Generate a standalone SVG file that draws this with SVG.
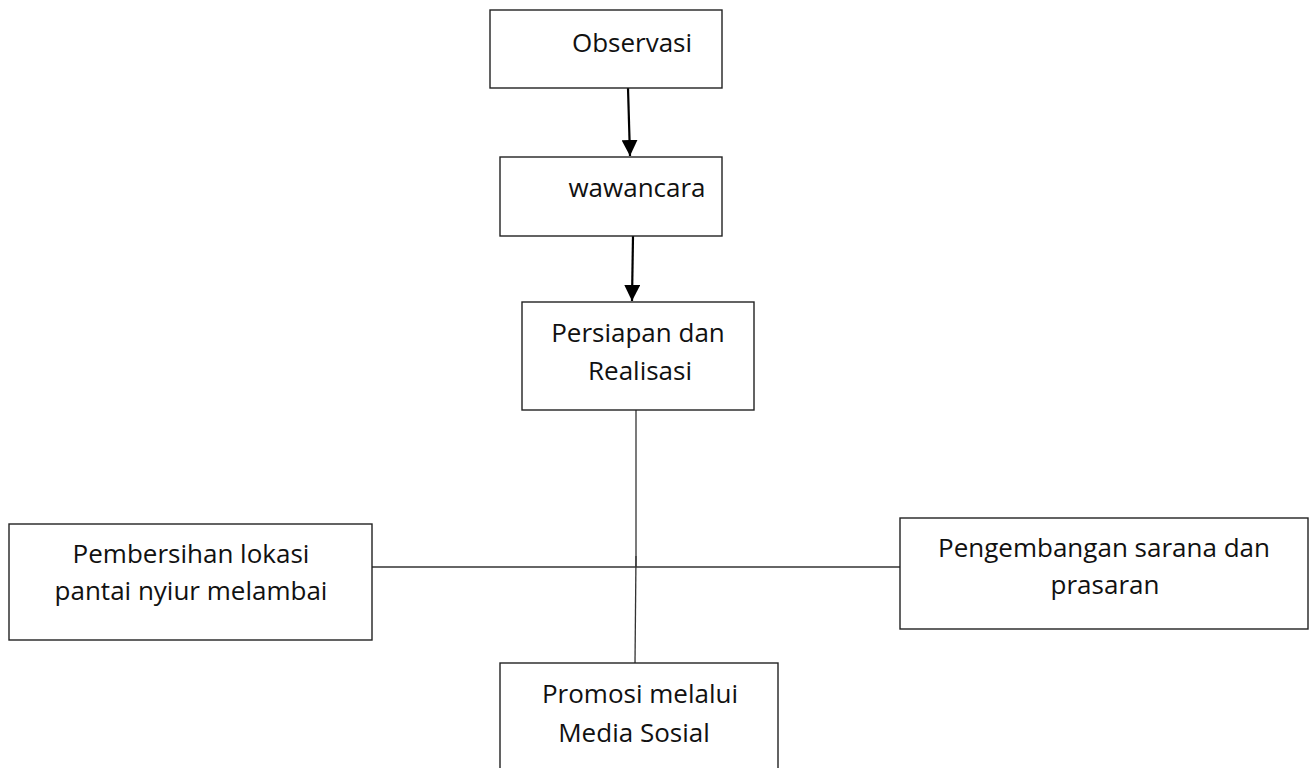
<svg xmlns="http://www.w3.org/2000/svg" width="1312" height="768" viewBox="0 0 1312 768">
<style>
.box{fill:#fff;stroke:#222;stroke-width:1.4}
.t{font-family:"Open Sans","Noto Sans",sans-serif;font-size:26px;fill:#111;text-anchor:middle}
.ln{stroke:#333;stroke-width:1.3;fill:none}
.ar{stroke:#000;stroke-width:2.2;fill:none}
</style>
<defs>
<marker id="ah2" viewBox="0 0 16 16" refX="16" refY="8" markerWidth="16" markerHeight="16" markerUnits="userSpaceOnUse" orient="auto">
<path d="M0,0 L16,8 L0,16 z" fill="#000"/>
</marker>
</defs>
<g id="connectors">
<line class="ar" x1="628" y1="88" x2="630" y2="156" marker-end="url(#ah2)"/>
<line class="ar" x1="633" y1="236" x2="632" y2="301" marker-end="url(#ah2)"/>
<line class="ln" x1="636" y1="410" x2="636" y2="567"/>
<line class="ln" x1="636" y1="556" x2="635" y2="663"/>
<line class="ln" x1="372" y1="567" x2="900" y2="567"/>
</g>
<g id="observasi">
<rect class="box" x="490" y="10" width="232" height="78"/>
<text class="t" x="632" y="52">Observasi</text>
</g>
<g id="wawancara">
<rect class="box" x="500" y="157" width="222" height="79"/>
<text class="t" x="637" y="197">wawancara</text>
</g>
<g id="persiapan">
<rect class="box" x="522" y="302" width="232" height="108"/>
<text class="t" x="638" y="342">Persiapan dan</text>
<text class="t" x="640" y="380">Realisasi</text>
</g>
<g id="pembersihan">
<rect class="box" x="9" y="524" width="363" height="116"/>
<text class="t" x="191" y="563">Pembersihan lokasi</text>
<text class="t" x="191" y="600">pantai nyiur melambai</text>
</g>
<g id="pengembangan">
<rect class="box" x="900" y="518" width="408" height="111"/>
<text class="t" x="1104" y="557">Pengembangan sarana dan</text>
<text class="t" x="1105" y="594">prasaran</text>
</g>
<g id="promosi">
<rect class="box" x="500" y="663" width="278" height="120"/>
<text class="t" x="640" y="703">Promosi melalui</text>
<text class="t" x="634" y="742">Media Sosial</text>
</g>
</svg>
